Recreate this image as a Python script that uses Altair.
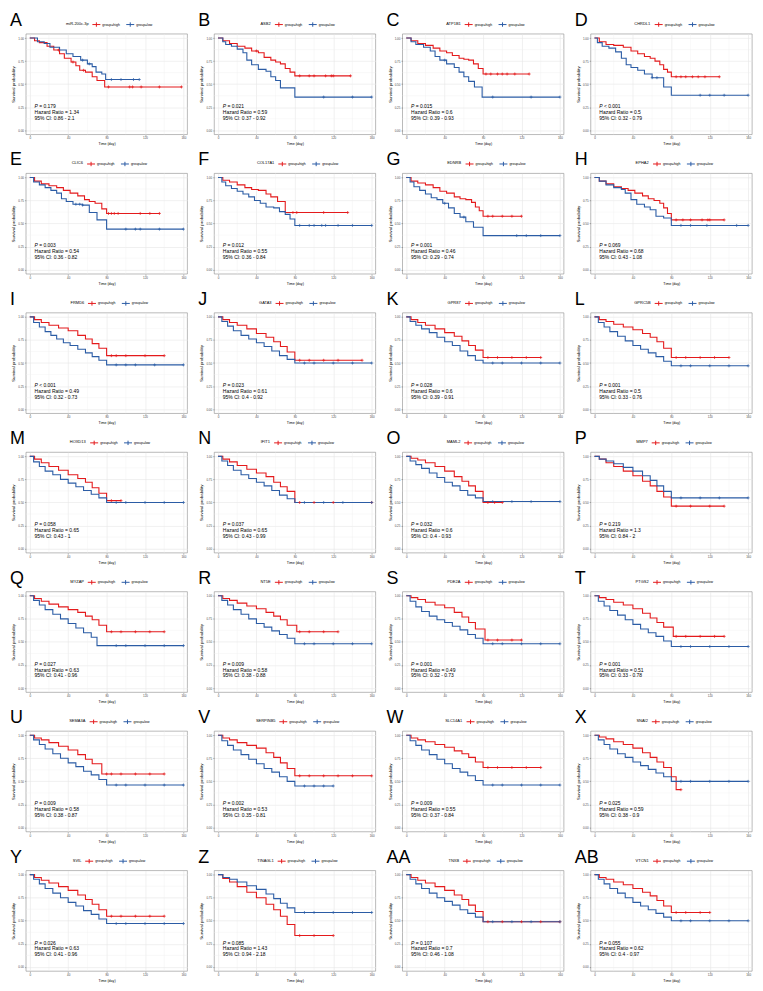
import altair as alt
import pandas as pd

FONT = "Liberation Sans"
RED = "#E41A1C"
BLUE = "#2B5CA5"

LETTERS = ["A", "B", "C", "D", "E", "F", "G", "H", "I", "J", "K", "L", "M", "N",
           "O", "P", "Q", "R", "S", "T", "U", "V", "W", "X", "Y", "Z", "AA", "AB"]
GENES = ["miR-200c-3p", "ASB2", "ATP1B1", "CHRDL1", "CLIC6", "COL17A1", "EDNRB", "EPHA2",
         "FRMD6", "GATA3", "GPR87", "GPRC5B", "HOXD13", "IFIT1", "MAML2", "MMP7",
         "MYZAP", "NT5E", "PDE2A", "PTGS2", "SEMA3A", "SERPINB5", "SLC14A1", "SNAI2",
         "SVIL", "TINAGL1", "TNXB", "VTCN1"]
P_VALS = ["= 0.179", "= 0.021", "= 0.015", "< 0.001", "= 0.003", "= 0.012", "= 0.001", "= 0.069",
          "< 0.001", "= 0.023", "= 0.028", "= 0.001", "= 0.058", "= 0.037", "= 0.032", "= 0.219",
          "= 0.027", "= 0.009", "= 0.001", "= 0.001", "= 0.009", "= 0.002", "= 0.009", "= 0.025",
          "= 0.026", "= 0.085", "= 0.107", "= 0.055"]
HRS = ["1.34", "0.59", "0.6", "0.5", "0.54", "0.55", "0.46", "0.68",
       "0.49", "0.61", "0.6", "0.5", "0.65", "0.65", "0.6", "1.3",
       "0.63", "0.58", "0.49", "0.51", "0.58", "0.53", "0.55", "0.59",
       "0.63", "1.43", "0.7", "0.62"]
CIS = ["0.86 - 2.1", "0.37 - 0.92", "0.39 - 0.93", "0.32 - 0.79", "0.36 - 0.82", "0.36 - 0.84",
       "0.29 - 0.74", "0.43 - 1.08", "0.32 - 0.73", "0.4 - 0.92", "0.39 - 0.91", "0.33 - 0.76",
       "0.43 - 1", "0.43 - 0.99", "0.4 - 0.93", "0.84 - 2", "0.41 - 0.96", "0.38 - 0.88",
       "0.32 - 0.73", "0.33 - 0.78", "0.38 - 0.87", "0.35 - 0.81", "0.37 - 0.84", "0.38 - 0.9",
       "0.41 - 0.96", "0.94 - 2.18", "0.46 - 1.08", "0.4 - 0.97"]

T11 = [0, 5, 12, 20, 30, 40, 50, 58, 65, 72, 80]
T12 = [0, 4, 10, 16, 24, 32, 40, 48, 56, 64, 72, 80]

HIGH_T = [
    [0, 5, 10, 18, 25, 31, 36, 43, 48, 52, 58, 65, 70, 78],
    [0, 5, 12, 20, 28, 35, 42, 48, 55, 60, 65, 70, 75, 80],
    [0, 5, 12, 20, 28, 35, 42, 48, 55, 60, 65, 70, 75, 80],
    [0, 5, 12, 20, 30, 38, 45, 52, 58, 63, 68, 72, 76, 80],
    [0, 5, 12, 20, 28, 35, 42, 50, 57, 62, 68, 75, 80],
    [0, 5, 12, 20, 28, 35, 42, 50, 55, 62, 70],
    [0, 5, 12, 20, 28, 35, 42, 50, 56, 62, 68, 72, 76, 80],
    [0, 5, 12, 20, 28, 35, 42, 50, 56, 62, 68, 72, 76, 80],
    T11, T11, T11, T11, T11, T11, T11, T11,
    T11, [0, 5, 12, 20, 30, 40, 50, 58, 65, 72, 82], [0, 5, 12, 20, 30, 40, 50, 58, 65, 72, 82],
    [0, 5, 12, 20, 30, 40, 50, 58, 65, 72, 82], [0, 5, 12, 20, 30, 40, 50, 58, 65, 75],
    T11, T11, [0, 5, 12, 20, 30, 40, 50, 58, 65, 72, 80, 85],
    T11, T11, T11, T11,
]
HIGH_S = [
    [1, 0.97, 0.95, 0.91, 0.87, 0.83, 0.78, 0.74, 0.70, 0.65, 0.63, 0.58, 0.54, 0.47],
    [1, 0.97, 0.94, 0.91, 0.89, 0.86, 0.84, 0.79, 0.76, 0.74, 0.72, 0.67, 0.63, 0.59],
    [1, 0.97, 0.94, 0.92, 0.89, 0.86, 0.84, 0.81, 0.78, 0.77, 0.76, 0.72, 0.67, 0.61],
    [1, 0.96, 0.93, 0.92, 0.90, 0.86, 0.83, 0.80, 0.78, 0.75, 0.71, 0.66, 0.63, 0.58],
    [1, 0.96, 0.93, 0.91, 0.89, 0.86, 0.83, 0.80, 0.76, 0.74, 0.72, 0.66, 0.61],
    [1, 0.97, 0.95, 0.92, 0.89, 0.87, 0.86, 0.82, 0.79, 0.74, 0.62],
    [1, 0.96, 0.94, 0.92, 0.89, 0.85, 0.83, 0.79, 0.77, 0.76, 0.73, 0.68, 0.64, 0.58],
    [1, 0.96, 0.93, 0.90, 0.88, 0.86, 0.83, 0.80, 0.77, 0.75, 0.72, 0.67, 0.61, 0.54],
    [1, 0.97, 0.94, 0.91, 0.88, 0.85, 0.80, 0.76, 0.71, 0.66, 0.58],
    [1, 0.97, 0.94, 0.91, 0.87, 0.82, 0.78, 0.73, 0.68, 0.62, 0.53],
    [1, 0.97, 0.94, 0.91, 0.87, 0.83, 0.79, 0.74, 0.69, 0.64, 0.56],
    [1, 0.97, 0.95, 0.92, 0.89, 0.86, 0.82, 0.78, 0.73, 0.66, 0.56],
    [1, 0.97, 0.93, 0.89, 0.85, 0.80, 0.76, 0.72, 0.66, 0.60, 0.52],
    [1, 0.97, 0.94, 0.90, 0.86, 0.82, 0.78, 0.72, 0.67, 0.62, 0.50],
    [1, 0.98, 0.96, 0.93, 0.89, 0.84, 0.78, 0.73, 0.68, 0.62, 0.50],
    [1, 0.97, 0.93, 0.89, 0.84, 0.79, 0.73, 0.68, 0.62, 0.56, 0.46],
    [1, 0.97, 0.94, 0.91, 0.88, 0.85, 0.82, 0.78, 0.74, 0.68, 0.61],
    [1, 0.97, 0.95, 0.92, 0.89, 0.86, 0.82, 0.78, 0.74, 0.68, 0.61],
    [1, 0.98, 0.96, 0.93, 0.90, 0.87, 0.82, 0.77, 0.71, 0.64, 0.52],
    [1, 0.98, 0.96, 0.93, 0.90, 0.86, 0.81, 0.76, 0.71, 0.66, 0.56],
    [1, 0.97, 0.95, 0.92, 0.88, 0.84, 0.79, 0.74, 0.69, 0.58],
    [1, 0.97, 0.95, 0.92, 0.89, 0.86, 0.81, 0.76, 0.70, 0.64, 0.56],
    [1, 0.97, 0.95, 0.93, 0.90, 0.87, 0.83, 0.80, 0.76, 0.71, 0.65],
    [1, 0.98, 0.96, 0.93, 0.90, 0.86, 0.81, 0.76, 0.71, 0.65, 0.55, 0.41],
    [1, 0.97, 0.94, 0.91, 0.87, 0.83, 0.78, 0.73, 0.68, 0.62, 0.55],
    [1, 0.96, 0.92, 0.87, 0.81, 0.75, 0.68, 0.62, 0.55, 0.46, 0.34],
    [1, 0.97, 0.94, 0.91, 0.87, 0.83, 0.78, 0.73, 0.67, 0.60, 0.49],
    [1, 0.97, 0.95, 0.92, 0.89, 0.85, 0.81, 0.77, 0.72, 0.66, 0.59],
]
HIGH_END = [158, 138, 128, 130, 135, 135, 120, 135, 140, 150, 140, 140, 95, 160,
            100, 135, 140, 125, 120, 135, 140, 160, 140, 90, 140, 120, 160, 120]
HIGH_CENS = [
    [30, 45, 56, 82, 104, 107, 116, 135, 158], [40, 85, 95, 100, 112, 118, 120, 138],
    [83, 88, 95, 100, 105, 113, 128], [85, 90, 95, 102, 108, 115, 130],
    [82, 85, 88, 92, 115, 125, 135], [78, 82, 110, 135], [85, 90, 100, 110, 120],
    [85, 92, 100, 112, 118, 120, 135], [85, 90, 100, 120, 140], [85, 95, 110, 125, 150],
    [85, 95, 110, 125, 140], [85, 95, 110, 125, 140], [85, 95], [85, 100, 120, 160],
    [85, 92, 100], [85, 100, 120, 135], [85, 95, 110, 125, 140], [85, 95, 110, 125],
    [85, 95, 110, 120], [85, 95, 110, 125, 135], [80, 85, 95, 110, 125, 140],
    [85, 95, 110, 125, 140, 160], [85, 95, 110, 125, 140], [90], [85, 95, 110, 125, 140],
    [85, 100, 120], [85, 100, 120, 140, 160], [85, 95, 110, 120],
]

LOW_T = [
    [0, 8, 15, 21, 31, 38, 45, 53, 60, 65, 69, 75, 79],
    [0, 5, 8, 14, 20, 26, 30, 35, 42, 50, 55, 60, 65, 80],
    [0, 5, 10, 18, 25, 30, 35, 42, 50, 55, 60, 65, 71, 79],
    [0, 3, 8, 15, 22, 28, 33, 38, 45, 52, 60, 72, 80],
    [0, 4, 10, 16, 22, 28, 33, 38, 45, 55, 62, 70, 80],
    [0, 4, 8, 14, 20, 26, 32, 38, 44, 50, 58, 64, 70, 75, 80],
    [0, 4, 8, 14, 20, 26, 32, 38, 44, 50, 56, 62, 70, 80],
    [0, 5, 12, 20, 28, 32, 38, 44, 52, 58, 64, 72, 80],
    [0, 4, 10, 16, 22, 28, 35, 42, 50, 58, 65, 72, 80],
    T12, T12, T12, T12, T12, T12, T11,
    [0, 4, 10, 16, 24, 32, 40, 48, 56, 64, 70],
    T12, T12, T12, T12, T12, T12, T12,
    T12, T11, T12, T12,
]
LOW_S = [
    [1, 0.96, 0.94, 0.90, 0.87, 0.83, 0.80, 0.76, 0.72, 0.69, 0.63, 0.61, 0.55],
    [1, 0.96, 0.93, 0.91, 0.88, 0.84, 0.76, 0.71, 0.66, 0.64, 0.58, 0.54, 0.46, 0.36],
    [1, 0.96, 0.93, 0.90, 0.86, 0.80, 0.76, 0.72, 0.68, 0.63, 0.58, 0.53, 0.47, 0.36],
    [1, 0.95, 0.91, 0.89, 0.85, 0.78, 0.71, 0.68, 0.65, 0.61, 0.57, 0.47, 0.38],
    [1, 0.95, 0.92, 0.89, 0.86, 0.83, 0.77, 0.74, 0.71, 0.70, 0.62, 0.54, 0.44],
    [1, 0.95, 0.91, 0.88, 0.85, 0.82, 0.79, 0.75, 0.72, 0.68, 0.67, 0.63, 0.60, 0.55, 0.48],
    [1, 0.95, 0.90, 0.86, 0.82, 0.78, 0.76, 0.72, 0.67, 0.61, 0.57, 0.52, 0.46, 0.37],
    [1, 0.96, 0.92, 0.89, 0.87, 0.83, 0.76, 0.71, 0.68, 0.65, 0.58, 0.56, 0.48],
    [1, 0.94, 0.89, 0.84, 0.80, 0.76, 0.72, 0.69, 0.65, 0.61, 0.57, 0.53, 0.48],
    [1, 0.95, 0.90, 0.85, 0.80, 0.76, 0.72, 0.68, 0.63, 0.58, 0.54, 0.50],
    [1, 0.95, 0.91, 0.87, 0.83, 0.78, 0.73, 0.69, 0.63, 0.58, 0.53, 0.50],
    [1, 0.94, 0.89, 0.84, 0.79, 0.74, 0.69, 0.65, 0.61, 0.57, 0.52, 0.47],
    [1, 0.94, 0.89, 0.84, 0.80, 0.75, 0.71, 0.67, 0.63, 0.59, 0.55, 0.50],
    [1, 0.95, 0.90, 0.85, 0.80, 0.76, 0.72, 0.68, 0.63, 0.58, 0.54, 0.50],
    [1, 0.95, 0.91, 0.87, 0.82, 0.77, 0.72, 0.68, 0.63, 0.58, 0.55, 0.51],
    [1, 0.97, 0.95, 0.92, 0.88, 0.84, 0.79, 0.74, 0.68, 0.62, 0.55],
    [1, 0.95, 0.90, 0.85, 0.80, 0.75, 0.70, 0.65, 0.60, 0.55, 0.46],
    [1, 0.95, 0.90, 0.85, 0.80, 0.75, 0.70, 0.66, 0.62, 0.58, 0.54, 0.48],
    [1, 0.94, 0.88, 0.83, 0.78, 0.74, 0.71, 0.67, 0.63, 0.58, 0.54, 0.48],
    [1, 0.94, 0.89, 0.84, 0.79, 0.74, 0.69, 0.64, 0.60, 0.56, 0.51, 0.45],
    [1, 0.95, 0.90, 0.85, 0.80, 0.75, 0.70, 0.66, 0.61, 0.57, 0.52, 0.46],
    [1, 0.94, 0.89, 0.84, 0.79, 0.74, 0.69, 0.64, 0.60, 0.55, 0.50, 0.45],
    [1, 0.94, 0.89, 0.84, 0.79, 0.74, 0.69, 0.64, 0.60, 0.56, 0.51, 0.46],
    [1, 0.95, 0.90, 0.85, 0.80, 0.76, 0.71, 0.67, 0.63, 0.59, 0.55, 0.50],
    [1, 0.95, 0.90, 0.85, 0.80, 0.75, 0.70, 0.66, 0.61, 0.57, 0.52, 0.47],
    [1, 0.97, 0.95, 0.92, 0.88, 0.84, 0.79, 0.74, 0.69, 0.64, 0.59],
    [1, 0.95, 0.90, 0.85, 0.80, 0.75, 0.71, 0.67, 0.62, 0.58, 0.54, 0.49],
    [1, 0.95, 0.90, 0.85, 0.80, 0.75, 0.70, 0.66, 0.62, 0.58, 0.54, 0.50],
]
LOW_END = [114, 160, 160, 160, 160, 160, 160, 160, 160, 160, 160, 160, 160, 160,
           160, 160, 160, 160, 160, 160, 160, 120, 160, 160, 160, 160, 160, 160]
LOW_CENS = [
    [55, 62, 85, 95, 108, 114], [110, 140, 160], [40, 90, 130, 160], [60, 65, 110, 120, 135, 160],
    [48, 52, 55, 100, 110, 115, 135, 160], [85, 95, 100, 108, 112, 125, 140, 160],
    [40, 60, 115, 125, 140, 160], [90, 100, 117, 148, 160], [90, 100, 110, 130, 160],
    [90, 100, 120, 140, 160], [90, 100, 120, 140, 160], [90, 100, 120, 140, 160],
    [90, 100, 120, 140, 160], [90, 110, 130, 160], [90, 110, 130, 160], [90, 110, 130, 160],
    [90, 100, 120, 140, 160], [90, 100, 120, 140, 160], [90, 100, 120, 140, 160],
    [90, 100, 120, 140, 160], [90, 100, 120, 140, 160], [90, 100, 110, 120],
    [90, 100, 120, 140, 160], [90, 100, 120, 140, 160], [90, 100, 120, 140, 160],
    [90, 100, 120, 140, 160], [90, 110, 130, 160], [90, 100, 120, 140, 160],
]

GROUPS = ["group=high", "group=low"]
X_TICKS = [0, 40, 80, 120, 160]
Y_TICKS = [0, 0.25, 0.5, 0.75, 1]
X_MINOR = [20, 60, 100, 140]
Y_MINOR = [0.125, 0.375, 0.625, 0.875]

W, H = 162, 101
PLUS = "M-1,0L1,0M0,-1L0,1"
KEY = "M-1,0L1,0M0,-0.55L0,0.55"

# approximate Arial advance widths (em) to centre the legend above each plot
CW = {c: 0.556 for c in "0123456789abcdeghnopqu"}
CW.update({c: 0.5 for c in "ckvxyz"})
CW.update({"i": 0.222, "l": 0.222, "j": 0.222, "f": 0.278, "t": 0.278, "r": 0.333,
           "m": 0.833, "w": 0.722, "s": 0.5, "-": 0.333, "=": 0.584, " ": 0.278,
           "I": 0.278, "M": 0.833, "W": 0.944})


def text_w(s, size):
    return sum(CW.get(c, 0.667) for c in s) * size


def step_at(ts, ss, t):
    v = ss[0]
    for a, b in zip(ts, ss):
        if a <= t:
            v = b
    return v


xs = alt.Scale(domain=[-4, 164], nice=False, zero=False)
ys = alt.Scale(domain=[-0.045, 1.045], nice=False, zero=False)
cs = alt.Scale(domain=GROUPS, range=[RED, BLUE])
XAX = alt.Axis(values=X_TICKS, title="Time (day)", titleFontSize=3.6, labelFlush=False)
YAX = alt.Axis(values=Y_TICKS, format=".2f", title="Survival probability", titleFontSize=4.4)


def panel(i):
    rows = []
    cens = []
    for g, T, S, E, C in [
        (GROUPS[0], HIGH_T[i], HIGH_S[i], HIGH_END[i], HIGH_CENS[i]),
        (GROUPS[1], LOW_T[i], LOW_S[i], LOW_END[i], LOW_CENS[i]),
    ]:
        for t, s in zip(T, S):
            rows.append({"time": t, "surv": s, "group": g})
        rows.append({"time": E, "surv": S[-1], "group": g})
        for c in C:
            cens.append({"time": c, "surv": step_at(T, S, c), "group": g})
    curves = pd.DataFrame(rows)
    cdf = pd.DataFrame(cens)

    X = alt.X("time:Q", scale=xs, axis=XAX)
    Y = alt.Y("surv:Q", scale=ys, axis=YAX)

    lw = text_w(GENES[i], 4) + 3 + 2 * (8 + 1.5) + text_w("group=high", 3.5) + 3 + text_w("group=low", 3.5)
    legend = alt.Legend(
        title=GENES[i], orient="none", legendX=W / 2 - lw / 2, legendY=-14,
        direction="horizontal", titleOrient="left", titleFontSize=4, titleFontWeight="normal",
        titleColor="black", titlePadding=3, titleBaseline="middle", labelFontSize=3.5,
        labelColor="black", labelOffset=1.5, symbolType=KEY, symbolSize=64,
        symbolStrokeWidth=1.0, columnPadding=3, padding=0,
    )
    color = alt.Color("group:N", scale=cs, legend=legend)

    vgrid = alt.Chart(pd.DataFrame({"time": X_MINOR})).mark_rule(
        color="#EFEFEF", strokeWidth=0.4).encode(x=X)
    hgrid = alt.Chart(pd.DataFrame({"surv": Y_MINOR})).mark_rule(
        color="#EFEFEF", strokeWidth=0.4).encode(y=Y)
    lines = alt.Chart(curves).mark_line(interpolate="step-after", strokeWidth=1.1).encode(
        x=X, y=Y, color=color)
    ticks = alt.Chart(cdf).mark_point(shape=PLUS, filled=False, size=9, strokeWidth=0.7, opacity=1).encode(
        x=X, y=Y, stroke=alt.Stroke("group:N", scale=cs, legend=None))

    p_it = alt.Chart(pd.DataFrame({"time": [5], "surv": [0.263], "txt": ["P"]})).mark_text(
        align="left", baseline="middle", fontSize=5, fontStyle="italic", font=FONT, color="black"
    ).encode(x=X, y=Y, text="txt:N")
    p_val = alt.Chart(pd.DataFrame({"time": [5], "surv": [0.263], "txt": [P_VALS[i]]})).mark_text(
        align="left", baseline="middle", fontSize=5, font=FONT, color="black", dx=4.6
    ).encode(x=X, y=Y, text="txt:N")
    stats = alt.Chart(pd.DataFrame({
        "time": [5, 5], "surv": [0.200, 0.137],
        "txt": ["Hazard Ratio = " + HRS[i], "95% CI: " + CIS[i]]})).mark_text(
        align="left", baseline="middle", fontSize=5, font=FONT, color="black"
    ).encode(x=X, y=Y, text="txt:N")
    letter = alt.Chart(pd.DataFrame({"lab": [LETTERS[i]]})).mark_text(
        align="left", baseline="alphabetic", fontSize=18, font=FONT, color="black"
    ).encode(x=alt.value(-16), y=alt.value(-8), text="lab:N")

    return alt.layer(vgrid, hgrid, lines, ticks, p_it, p_val, stats, letter).properties(
        width=W, height=H)


chart = alt.concat(
    *[panel(i) for i in range(len(LETTERS))],
    columns=4, spacing={"row": 39, "column": 27}, bounds="flush",
).resolve_scale(color="independent", stroke="independent").properties(
    padding={"left": 1, "top": 1, "right": 2, "bottom": 2}
).configure(font=FONT).configure_view(
    stroke="#8A8A8A", strokeWidth=0.6
).configure_axis(
    labelFontSize=3, labelColor="#4D4D4D", tickColor="#4D4D4D", tickSize=1.5, tickWidth=0.4,
    domain=False, labelPadding=1, titleFontWeight="normal", titleColor="black", titlePadding=2,
    gridColor="#E6E6E6", gridWidth=0.6, labelFont=FONT, titleFont=FONT,
)

chart.save("out.html", embed_options={"renderer": "svg", "actions": False})
